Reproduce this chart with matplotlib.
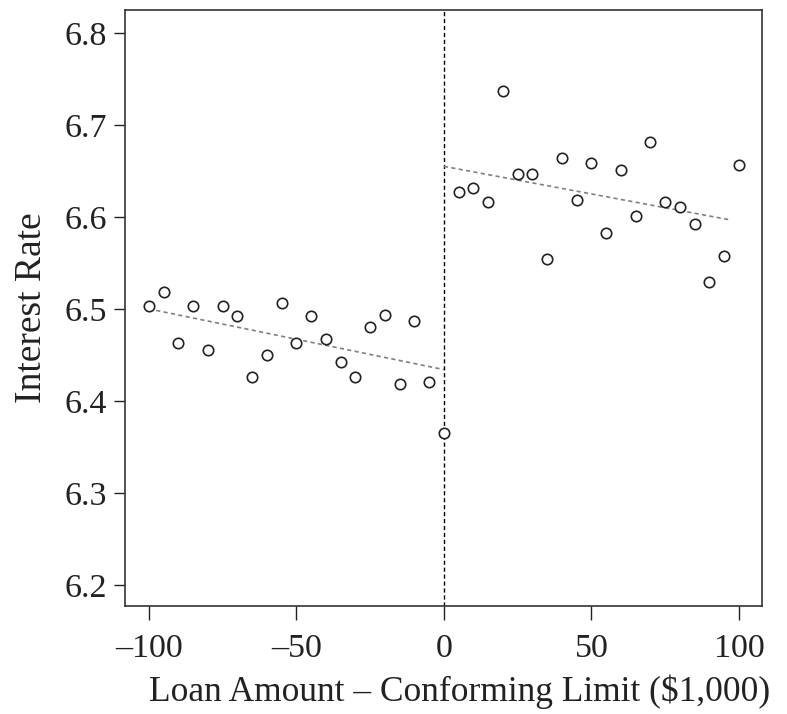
import matplotlib
matplotlib.use("Agg")
import matplotlib.pyplot as plt
import numpy as np

# Data
left_x = [-100, -95, -90, -85, -80, -75, -70, -65, -60, -55, -50, -45, -40, -35, -30, -25, -20, -15, -10, -5, 0]
left_y = [6.503, 6.518, 6.463, 6.503, 6.455, 6.503, 6.492, 6.426, 6.450, 6.506, 6.463, 6.492, 6.467, 6.442,
          6.426, 6.480, 6.493, 6.418, 6.487, 6.421, 6.365]
right_x = [5, 10, 15, 20, 25, 30, 35, 40, 45, 50, 55, 60, 65, 70, 75, 80, 85, 90, 95, 100]
right_y = [6.627, 6.631, 6.616, 6.737, 6.647, 6.647, 6.554, 6.664, 6.618, 6.659, 6.583, 6.651, 6.601, 6.682,
           6.616, 6.611, 6.592, 6.529, 6.558, 6.657]

# Fitted lines (intercept at 0, slope per $1,000) and extents
left_fit_x = [-100, 0]
left_fit_intercept, left_fit_slope = 6.434, -0.00066
right_fit_x = [0, 97]
right_fit_intercept, right_fit_slope = 6.655, -0.0006

xticks = [-100, -50, 0, 50, 100]
yticks = [6.2, 6.3, 6.4, 6.5, 6.6, 6.7, 6.8]

plt.rcParams['font.family'] = ['Liberation Serif', 'DejaVu Serif']

fig = plt.figure(figsize=(7.87, 7.14), dpi=100)
ax = fig.add_axes([0.1588, 0.1513, 0.8094, 0.8347])

ax.axvline(0, color='black', linestyle=(0, (3, 2)), linewidth=1.0, zorder=1)

lfx = np.array(left_fit_x, dtype=float)
rfx = np.array(right_fit_x, dtype=float)
ax.plot(lfx, left_fit_intercept + left_fit_slope * lfx, color='#808080', linestyle=(0, (2.5, 2)), linewidth=1.2, zorder=2)
ax.plot(rfx, right_fit_intercept + right_fit_slope * rfx, color='#808080', linestyle=(0, (2.5, 2)), linewidth=1.2, zorder=2)

ax.plot(left_x, left_y, linestyle='none', marker='o', markersize=7.5, markerfacecolor='white',
        markeredgecolor='#222222', markeredgewidth=1.2, zorder=3)
ax.plot(right_x, right_y, linestyle='none', marker='o', markersize=7.5, markerfacecolor='white',
        markeredgecolor='#222222', markeredgewidth=1.2, zorder=3)

ax.set_xlim(-108.1, 107.8)
ax.set_ylim(6.177, 6.825)
ax.set_xticks(xticks)
ax.set_xticklabels([("\u2013" + str(abs(t))) if t < 0 else str(t) for t in xticks])
ax.set_yticks(yticks)
ax.set_yticklabels([f"{t:.1f}" for t in yticks])

ax.tick_params(axis='both', direction='out', width=1.0, labelsize=24.5, colors='#222222')
ax.tick_params(axis='x', length=10, pad=9.5)
ax.tick_params(axis='y', length=8, pad=5)
for s in ax.spines.values():
    s.set_linewidth(1.2)
    s.set_color('#333333')

ax.set_xlabel("Loan Amount \u2013 Conforming Limit ($1,000)", fontsize=25.5, labelpad=8, color='#222222')
ax.xaxis.label.set_x(0.526)
ax.set_ylabel("Interest Rate", fontsize=27, labelpad=11, color='#222222')

fig.savefig("out.png", dpi=100)
